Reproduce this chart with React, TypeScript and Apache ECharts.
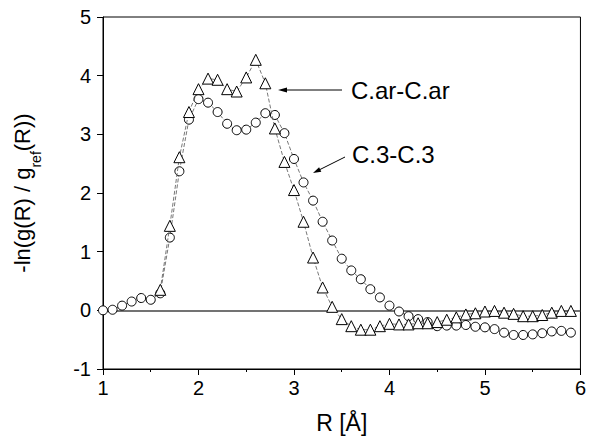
import React, { useEffect, useRef } from "react";
import * as echarts from "echarts";

const rValues = [
  1.0, 1.1, 1.2, 1.3, 1.4, 1.5, 1.6, 1.7, 1.8, 1.9,
  2.0, 2.1, 2.2, 2.3, 2.4, 2.5, 2.6, 2.7, 2.8, 2.9,
  3.0, 3.1, 3.2, 3.3, 3.4, 3.5, 3.6, 3.7, 3.8, 3.9,
  4.0, 4.1, 4.2, 4.3, 4.4, 4.5, 4.6, 4.7, 4.8, 4.9,
  5.0, 5.1, 5.2, 5.3, 5.4, 5.5, 5.6, 5.7, 5.8, 5.9,
];

// C.3-C.3 (circles)
const c3Values = [
  0.0, 0.01, 0.08, 0.15, 0.21, 0.18, 0.29, 1.24, 2.37, 3.25,
  3.6, 3.54, 3.38, 3.18, 3.07, 3.08, 3.2, 3.36, 3.33, 3.02,
  2.58, 2.18, 1.87, 1.51, 1.19, 0.88, 0.68, 0.53, 0.36, 0.22,
  0.08, -0.02, -0.1, -0.15, -0.2, -0.27, -0.26, -0.26, -0.25, -0.28,
  -0.29, -0.32, -0.38, -0.42, -0.42, -0.41, -0.39, -0.36, -0.35, -0.38,
];

// C.ar-C.ar (triangles)
const carValues = [
  null, null, null, null, null, null, 0.35, 1.44, 2.61, 3.38,
  3.77, 3.95, 3.93, 3.77, 3.73, 3.97, 4.27, 3.87, 3.1, 2.53,
  2.05, 1.51, 0.9, 0.39, 0.06, -0.15, -0.27, -0.33, -0.33, -0.27,
  -0.23, -0.24, -0.24, -0.22, -0.22, -0.2, -0.16, -0.12, -0.07, -0.05,
  -0.02, -0.01, -0.04, -0.06, -0.1, -0.1, -0.08, -0.04, -0.01, -0.01,
];

const seriesNames = ["C.3-C.3", "C.ar-C.ar"];
const xTitle = "R [Å]";

const FONT = "'Liberation Sans', Arial, sans-serif";

export default function App() {
  const ref = useRef<HTMLDivElement>(null);

  useEffect(() => {
    if (!ref.current) return;
    const chart = echarts.init(ref.current, null, { renderer: "svg" });

    const toPairs = (vals: (number | null)[]) =>
      rValues.map((r, i) => (vals[i] === null ? null : [r, vals[i]])).filter((p) => p !== null);

    const lineStyle = { color: "#555", width: 0.8, type: [4, 2] as any };

    chart.setOption({
      animation: false,
      backgroundColor: "#fff",
      textStyle: { fontFamily: FONT },
      grid: {
        left: 103,
        right: 6,
        top: 17,
        bottom: 69,
        show: true,
        borderColor: "#000",
        borderWidth: 1,
        backgroundColor: "transparent",
      },
      xAxis: {
        type: "value",
        min: 1,
        max: 6,
        interval: 1,
        name: xTitle,
        nameLocation: "middle",
        nameGap: 42,
        nameTextStyle: { fontSize: 23, color: "#000", fontFamily: FONT },
        axisLine: { show: true, onZero: false, lineStyle: { color: "#000", width: 1 } },
        axisTick: { show: true, inside: false, length: 6, lineStyle: { color: "#000" } },
        minorTick: { show: true, splitNumber: 2, length: 3, lineStyle: { color: "#000" } },
        axisLabel: { fontSize: 20, color: "#000", margin: 9, fontFamily: FONT },
        splitLine: { show: false },
      },
      yAxis: {
        type: "value",
        min: -1,
        max: 5,
        interval: 1,
        name: "{a|-ln(g(R) / g}{b|ref}{a|(R))}",
        nameLocation: "middle",
        nameRotate: 90,
        nameGap: 60,
        nameTextStyle: {
          color: "#000",
          fontFamily: FONT,
          rich: {
            a: { fontSize: 22, color: "#000", fontFamily: FONT, lineHeight: 26, verticalAlign: "top" },
            b: { fontSize: 14, color: "#000", fontFamily: FONT, lineHeight: 32, verticalAlign: "bottom" },
          },
        },
        axisLine: { show: true, onZero: false, lineStyle: { color: "#000", width: 1 } },
        axisTick: { show: true, inside: false, length: 6, lineStyle: { color: "#000" } },
        axisLabel: { fontSize: 20, color: "#000", margin: 12, fontFamily: FONT },
        splitLine: { show: false },
      },
      series: [
        {
          name: seriesNames[0],
          type: "line",
          data: toPairs(c3Values),
          symbol: "circle",
          symbolSize: 9,
          showSymbol: true,
          itemStyle: { color: "#fff", borderColor: "#000", borderWidth: 1 },
          lineStyle,
          z: 3,
          markLine: {
            silent: true,
            symbol: "none",
            label: { show: false },
            lineStyle: { color: "#444", width: 1.5, type: "solid" },
            data: [{ yAxis: 0 }],
            z: 1,
          },
        },
        {
          name: seriesNames[1],
          type: "line",
          data: toPairs(carValues),
          symbol: "triangle",
          symbolSize: 11,
          showSymbol: true,
          itemStyle: { color: "#fff", borderColor: "#000", borderWidth: 1 },
          lineStyle,
          z: 4,
        },
      ],
      graphic: [
        { type: "line", shape: { x1: 342, y1: 90, x2: 284, y2: 90 }, style: { stroke: "#000", lineWidth: 1 } },
        { type: "polygon", shape: { points: [[278, 90], [287, 87.5], [287, 92.5]] }, style: { fill: "#000" } },
        {
          type: "text",
          left: 351,
          top: 78,
          style: { text: seriesNames[1], fontSize: 24, fill: "#000", fontFamily: FONT },
        },
        { type: "line", shape: { x1: 345, y1: 157, x2: 319, y2: 170 }, style: { stroke: "#000", lineWidth: 1 } },
        {
          type: "polygon",
          shape: { points: [[313, 173], [321.3, 171.7], [319.1, 167.2]] },
          style: { fill: "#000" },
        },
        {
          type: "text",
          left: 352,
          top: 142,
          style: { text: seriesNames[0], fontSize: 24, fill: "#000", fontFamily: FONT },
        },
      ],
    });

    return () => chart.dispose();
  }, []);

  return (
    <div
      ref={ref}
      style={{ position: "fixed", left: 0, top: 0, width: 589, height: 439, background: "#fff" }}
    />
  );
}
